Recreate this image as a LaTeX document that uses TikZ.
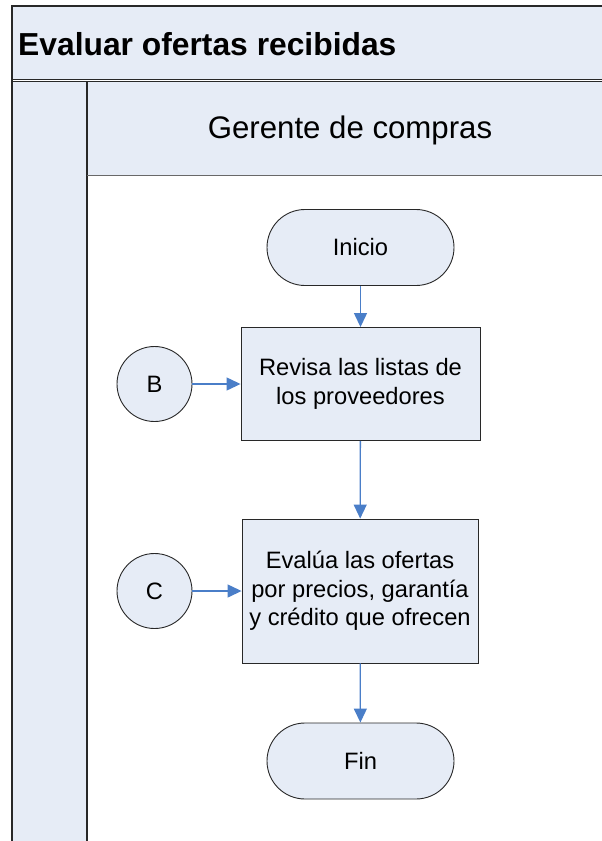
\documentclass[tikz,border=0pt]{standalone}
\usepackage{fontspec}
\setmainfont{Liberation Sans}
\usetikzlibrary{arrows.meta, positioning}
\definecolor{fondo}{RGB}{230,236,246}
\definecolor{flecha}{RGB}{74,126,200}
\definecolor{trazo}{RGB}{40,40,40}

\begin{document}
\begin{tikzpicture}[x=1pt,y=-1pt,
  caja/.style={draw=trazo,fill=fondo,line width=0.9pt,inner sep=0pt,align=center,
    font=\fontsize{23.7}{28.7}\selectfont},
  terminal/.style={caja,minimum width=187pt,minimum height=76pt,rounded corners=38pt},
  proceso/.style={caja},
  conector/.style={caja,circle,minimum size=75pt},
  flujo/.style={draw=flecha,line width=1.3pt,-{Triangle[width=13pt,length=14pt]}},
  marco/.style={draw=trazo,line width=1.4pt}]
\useasboundingbox (0,0) rectangle (602,841);

% les bandes
\fill[fondo] (12,6) rectangle (602,80);
\fill[fondo] (12,81) rectangle (87,841);
\fill[fondo] (87,81) rectangle (602,175.5);
\draw[marco] (602,6) -- (12,6) -- (12,841);
\draw[trazo,line width=0.9pt] (12,79) -- (602,79);
\draw[trazo,line width=0.9pt] (12,81.5) -- (602,81.5);
\draw[marco] (87,81.5) -- (87,841);
\draw[draw=trazo!70,line width=1.4pt] (87,175.5) -- (602,175.5);

\node[anchor=base west,inner sep=0pt,font=\fontsize{31.8}{36}\selectfont\bfseries] (titulo) at (18,55) {Evaluar ofertas recibidas};
\node[anchor=base,inner sep=0pt,font=\fontsize{31.2}{36}\selectfont] (carril) at (350,138) {Gerente de compras};

% les noeuds
\node[terminal] (inicio) at (360.5,247.5) {Inicio};
\node[proceso,minimum width=239pt,minimum height=113pt] (revisa) at (360.5,384) {Revisa las listas de\\los proveedores};
\node[proceso,minimum width=236pt,minimum height=144pt] (evalua) at (360,591) {Eval\'ua las ofertas\\por precios, garant\'ia\\y cr\'edito que ofrecen};
\node[terminal] (fin) at (360.5,761) {Fin};
\node[conector] (b) at (154.5,384) {B};
\node[conector] (c) at (154.5,591) {C};

% les fleches
\draw[flujo] (inicio) -- (revisa);
\draw[flujo] (revisa) -- (evalua);
\draw[flujo] (evalua) -- (fin);
\draw[flujo] (b) -- (revisa);
\draw[flujo] (c) -- (evalua);

\end{tikzpicture}
\end{document}
